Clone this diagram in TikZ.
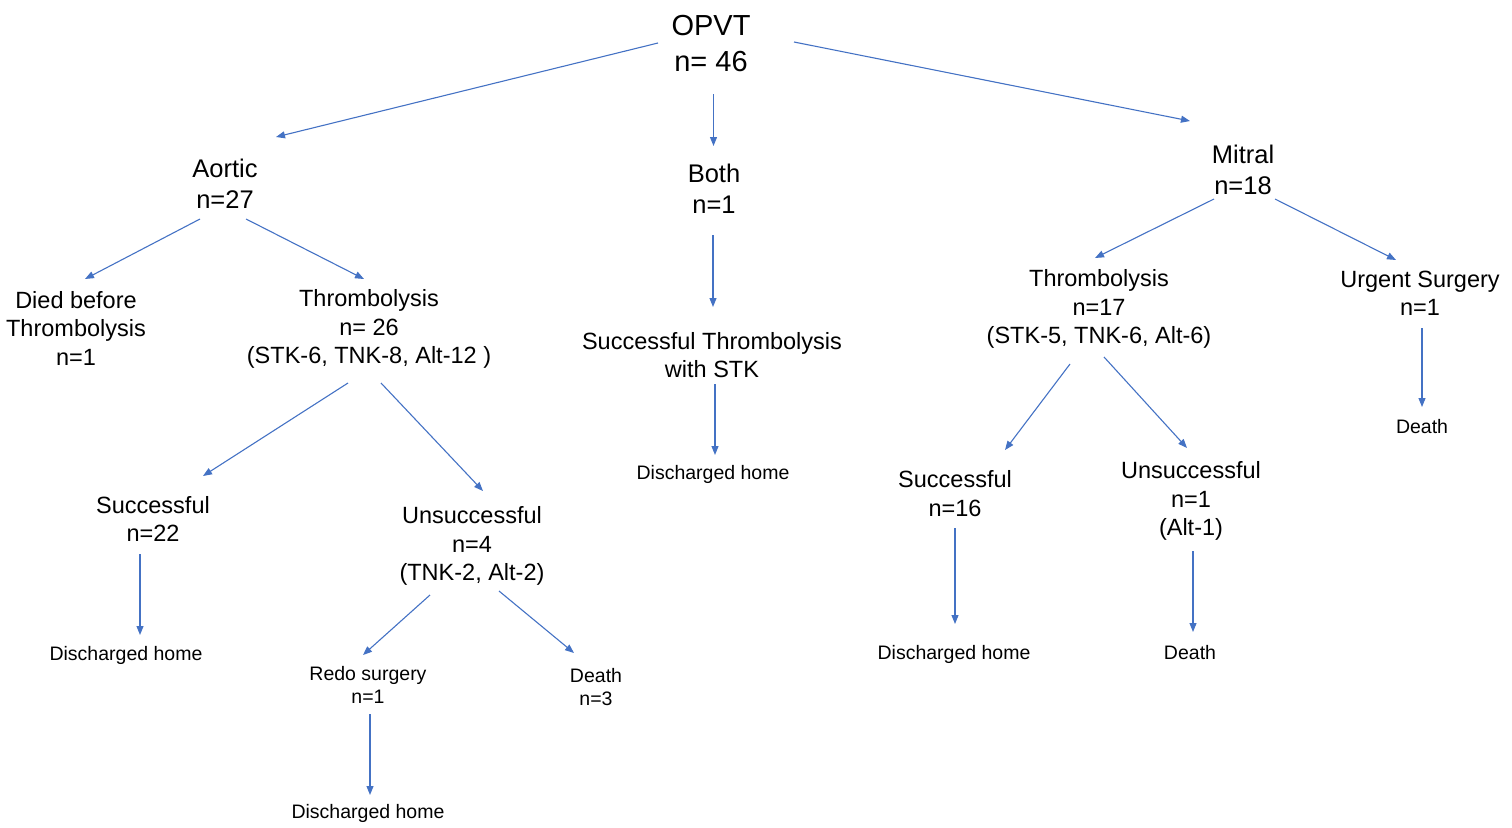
\documentclass[tikz,border=0pt]{standalone}
\usepackage{fontspec}
\setmainfont{Liberation Sans}
\usetikzlibrary{arrows.meta}
\definecolor{arrblue}{RGB}{68,114,196}
\begin{document}
\begin{tikzpicture}[x=1pt,y=-1pt,
  lvlzero/.style={align=center,inner sep=0pt,font=\fontsize{29}{36}\selectfont},
  lvlone/.style={align=center,inner sep=0pt,font=\fontsize{25.5}{31}\selectfont},
  lvltwo/.style={align=center,inner sep=0pt,font=\fontsize{23.5}{28.5}\selectfont},
  lvlsmall/.style={align=center,inner sep=0pt,font=\fontsize{19.5}{23.5}\selectfont},
  arr/.style={draw=arrblue,line width=1.1pt,-{Triangle[length=9pt,width=7pt]}}]
\useasboundingbox (0,0) rectangle (1512,827);
% nodes
\node[lvlzero] (opvt) at (711,44) {OPVT\\n= 46};
\node[lvlone] (aortic) at (225,183.5) {Aortic\\n=27};
\node[lvlone] (both) at (714,188.5) {Both\\n=1};
\node[lvlone] (mitral) at (1243,169.5) {Mitral\\n=18};
\node[lvltwo] (died) at (76,328) {Died before\\Thrombolysis\\n=1};
\node[lvltwo] (thrA) at (369,329) {Thrombolysis\\n= 26\\(STK-6, TNK-8, Alt-12 )};
\node[lvltwo] (stk) at (712,355) {Successful Thrombolysis\\with STK};
\node[lvltwo] (thrM) at (1099,309) {Thrombolysis\\n=17\\(STK-5, TNK-6, Alt-6)};
\node[lvltwo] (urg) at (1420,293.5) {Urgent Surgery\\n=1};
\node[lvltwo] (succA) at (153,519) {Successful\\n=22};
\node[lvltwo] (unsA) at (472,546) {Unsuccessful\\n=4\\(TNK-2, Alt-2)};
\node[lvlsmall] (dhB) at (713,474) {Discharged home};
\node[lvlsmall] (deathU) at (1422,427) {Death};
\node[lvltwo] (succM) at (955,493.5) {Successful\\n=16};
\node[lvltwo] (unsM) at (1191,501) {Unsuccessful\\n=1\\(Alt-1)};
\node[lvlsmall] (dhA) at (126,655) {Discharged home};
\node[lvlsmall] (redo) at (368,685) {Redo surgery\\n=1};
\node[lvlsmall] (deathA) at (596,687) {Death\\n=3};
\node[lvlsmall] (dhM) at (954,654) {Discharged home};
\node[lvlsmall] (deathM) at (1190,653) {Death};
\node[lvlsmall] (dhR) at (368,813) {Discharged home};
% connectors
\draw[arr] ([shift={(-53,-1)}]opvt.center) -- ([shift={(51,-46.5)}]aortic.center);
\draw[arr] ([shift={(2.5,50)}]opvt.center) -- ([shift={(-0.5,-42.5)}]both.center);
\draw[arr] ([shift={(83,-2)}]opvt.center) -- ([shift={(-53,-48.5)}]mitral.center);
\draw[arr] ([shift={(-25,35.5)}]aortic.center) -- ([shift={(9,-49)}]died.center);
\draw[arr] ([shift={(21,35.5)}]aortic.center) -- ([shift={(-5,-50)}]thrA.center);
\draw[arr] ([shift={(-1,46.5)}]both.center) -- ([shift={(1,-48)}]stk.center);
\draw[arr] ([shift={(-29,29.5)}]mitral.center) -- ([shift={(-4,-51)}]thrM.center);
\draw[arr] ([shift={(32,29.5)}]mitral.center) -- ([shift={(-24,-33.5)}]urg.center);
\draw[arr] ([shift={(-21,54)}]thrA.center) -- ([shift={(50,-43)}]succA.center);
\draw[arr] ([shift={(12,54)}]thrA.center) -- ([shift={(11,-55)}]unsA.center);
\draw[arr] ([shift={(3,29)}]stk.center) -- ([shift={(2,-19)}]dhB.center);
\draw[arr] ([shift={(-29,55)}]thrM.center) -- ([shift={(50,-43.5)}]succM.center);
\draw[arr] ([shift={(5,48)}]thrM.center) -- ([shift={(-4,-53)}]unsM.center);
\draw[arr] ([shift={(2,34.5)}]urg.center) -- ([shift={(0,-20)}]deathU.center);
\draw[arr] ([shift={(-13,35)}]succA.center) -- ([shift={(14,-20)}]dhA.center);
\draw[arr] ([shift={(-42,49)}]unsA.center) -- ([shift={(-5,-30)}]redo.center);
\draw[arr] ([shift={(27,45)}]unsA.center) -- ([shift={(-22,-34)}]deathA.center);
\draw[arr] ([shift={(0,34.5)}]succM.center) -- ([shift={(1,-30)}]dhM.center);
\draw[arr] ([shift={(2,50)}]unsM.center) -- ([shift={(3,-21)}]deathM.center);
\draw[arr] ([shift={(2,29)}]redo.center) -- ([shift={(2,-18)}]dhR.center);
\end{tikzpicture}
\end{document}
